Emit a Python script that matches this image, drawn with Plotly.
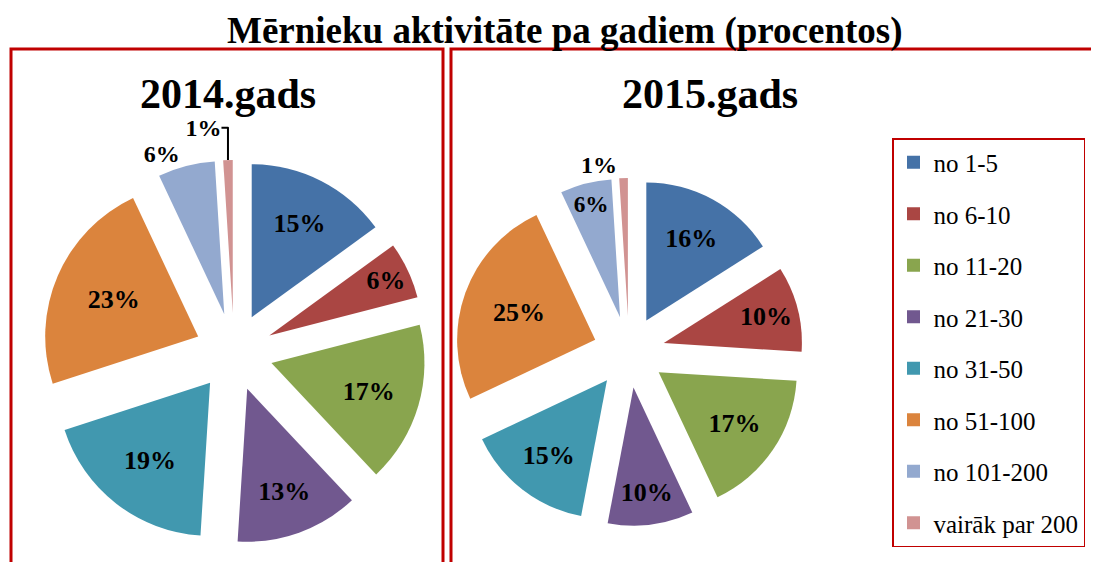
import plotly.graph_objects as go

categories = ["no 1-5", "no 6-10", "no 11-20", "no 21-30", "no 31-50",
              "no 51-100", "no 101-200", "vairāk par 200"]
values_2014 = [15, 6, 17, 13, 19, 23, 6, 1]
values_2015 = [16, 10, 17, 10, 15, 25, 6, 1]
colors = ["#4572A7", "#AA4643", "#89A54E", "#71588F", "#4198AF",
          "#DB843D", "#93A9CF", "#D19392"]
pos_2014 = ["inside"] * 6 + ["outside", "outside"]
pos_2015 = ["inside"] * 7 + ["outside"]

W, H = 1099, 562
OFF = 8  # page body margin offset
SERIF = "Times New Roman, Liberation Serif, serif"


def fx(x):
    return (x - OFF) / W


def fy(y):
    return 1 - (y - OFF) / H


def px_dom(x0, x1, y0, y1):
    return dict(x=[fx(x0), fx(x1)], y=[fy(y1), fy(y0)])


fig = go.Figure()

label_font = dict(family=SERIF, size=26, color="black", weight="bold")
out_font = dict(family=SERIF, size=24, color="black", weight="bold")

fig.add_trace(go.Pie(
    labels=categories, values=values_2014, sort=False, direction="clockwise",
    rotation=0, pull=0.255, marker=dict(colors=colors, line=dict(width=0)),
    texttemplate="%{percent:.0%}", textposition=pos_2014,
    insidetextorientation="horizontal",
    textfont=label_font, insidetextfont=label_font, outsidetextfont=out_font,
    domain=px_dom(42, 426, 160, 544), showlegend=False, hoverinfo="label+percent",
))
fig.add_trace(go.Pie(
    labels=categories, values=values_2015, sort=False, direction="clockwise",
    rotation=0, pull=0.26, marker=dict(colors=colors, line=dict(width=0)),
    texttemplate="%{percent:.0%}", textposition=pos_2015,
    insidetextorientation="horizontal",
    textfont=label_font, insidetextfont=label_font, outsidetextfont=out_font,
    domain=px_dom(455, 803, 178, 526), showlegend=False, hoverinfo="label+percent",
))

# legend entries
for cat, col in zip(categories, colors):
    fig.add_trace(go.Scatter(
        x=[None], y=[None], mode="markers", name=cat, legendgroup=cat,
        marker=dict(symbol="square", size=13, color=col),
    ))

shapes = [
    dict(type="rect", xref="paper", yref="paper",
         x0=fx(11), x1=fx(443), y0=-0.05, y1=fy(49),
         line=dict(color="#C00000", width=3)),
    dict(type="rect", xref="paper", yref="paper",
         x0=fx(451), x1=1.05, y0=-0.05, y1=fy(49),
         line=dict(color="#C00000", width=3)),
]

annotations = [
    dict(text="Mērnieku aktivitāte pa gadiem (procentos)", x=fx(565), y=fy(31),
         xref="paper", yref="paper", showarrow=False, xanchor="center", yanchor="middle",
         font=dict(family=SERIF, size=37, color="black", weight="bold")),
    dict(text="2014.gads", x=fx(228), y=fy(94),
         xref="paper", yref="paper", showarrow=False, xanchor="center", yanchor="middle",
         font=dict(family=SERIF, size=42, color="black", weight="bold")),
    dict(text="2015.gads", x=fx(710), y=fy(94),
         xref="paper", yref="paper", showarrow=False, xanchor="center", yanchor="middle",
         font=dict(family=SERIF, size=42, color="black", weight="bold")),
]

fig.update_layout(
    width=W, height=H,
    margin=dict(l=0, r=0, t=0, b=0, autoexpand=False),
    paper_bgcolor="white", plot_bgcolor="white",
    xaxis=dict(visible=False, domain=[0.95, 1]),
    yaxis=dict(visible=False, domain=[0.95, 1]),
    shapes=shapes, annotations=annotations,
    legend=dict(
        x=fx(1085), y=fy(138), xanchor="right", yanchor="top",
        bgcolor="white", bordercolor="#C00000", borderwidth=1.5,
        font=dict(family=SERIF, size=25, color="black"),
        tracegroupgap=16, itemwidth=30,
    ),
)

fig.write_html("out.html")
